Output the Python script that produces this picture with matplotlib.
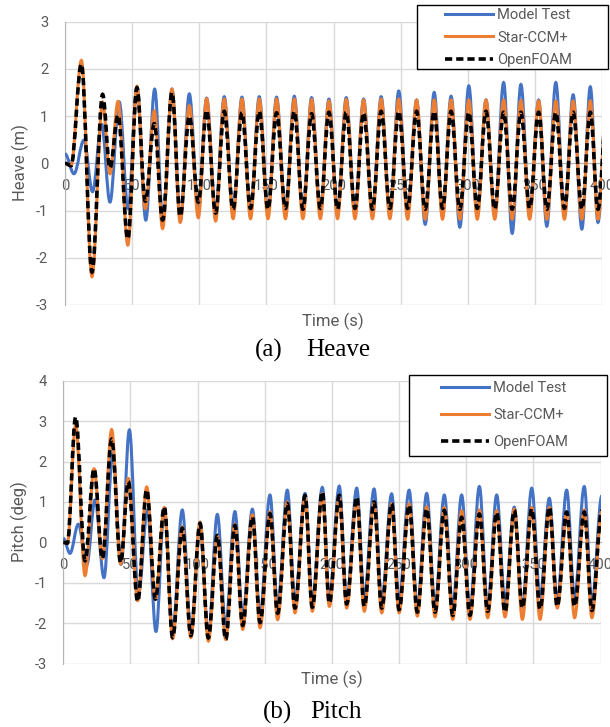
"""
Heave and pitch time histories: model test vs Star-CCM+ vs OpenFOAM
"""
import matplotlib

matplotlib.use("Agg")
import matplotlib.pyplot as plt
from matplotlib.lines import Line2D
from matplotlib.patches import PathPatch, Rectangle
from matplotlib.path import Path

# ---- data (extrema: time in s, value) ----
labels = ["Model Test", "Star-CCM+", "OpenFOAM"]

# heave, start-up part
heave_t_test_early = [0, 6.7, 14.1, 20.5, 27.3, 33.5, 40.4, 47.0, 53.6, 60.2, 66.8, 73.0, 79.7, 86.0, 92.6]
heave_t_cfd_early = [0, 4.5, 12.2, 20.1, 28.0, 33.5, 39.5, 46.8, 53.6, 59.8, 66.5, 72.7, 79.7, 85.8, 92.6]
heave_test_early = [0.2, -0.22, 0.49, -0.6, 0.83, -0.82, 1.3, -0.96, 1.62, -1.2, 1.57, -1.25, 1.57, -1.2, 1.47]
heave_star_early = [0, -0.05, 2.18, -2.4, 1.3, -0.22, 1.31, -1.73, 1.63, -0.96, 1.11, -1.38, 1.57, -1.25, 1.22]
heave_foam_early = [0, -0.05, 2.1, -2.3, 1.46, -0.1, 1.02, -1.6, 1.6, -0.8, 0.84, -1.2, 1.5, -1.12, 1.0]

# heave, steady part (trough, peak, trough, ...)
heave_t_late = [99.3, 105.5, 112.2, 118.6, 125.2, 131.8, 138.2, 144.7, 151.2, 157.6, 164.2, 170.8,
                177.2, 183.7, 190.2, 196.6, 203.0, 209.5, 216.0, 222.4, 229.0, 235.5, 242.0, 248.6,
                255.2, 261.9, 268.3, 275.0, 281.2, 287.6, 294.1, 300.8, 307.1, 313.6, 320.1, 326.7,
                333.1, 339.6, 346.1, 352.8, 358.9, 365.6, 372.0, 378.5, 385.0, 391.3, 397.0, 403.5]
heave_test_late = [-1.0, 1.38, -1.05, 1.41, -1.05, 1.40, -1.05, 1.41, -1.05, 1.40, -1.05, 1.42,
                   -1.05, 1.39, -1.05, 1.36, -1.05, 1.39, -1.05, 1.36, -1.05, 1.41, -1.08, 1.53,
                   -1.04, 1.34, -1.29, 1.50, -1.11, 1.42, -1.35, 1.64, -1.11, 1.34, -1.11, 1.71,
                   -1.48, 1.67, -1.11, 1.34, -1.33, 1.71, -1.11, 1.45, -1.39, 1.62, -1.25, 1.40]
heave_star_late = [-1.15, 1.37, -1.22, 1.36, -1.17, 1.36, -1.17, 1.36, -1.17, 1.36, -1.17, 1.36,
                   -1.17, 1.35, -1.17, 1.32, -1.17, 1.35, -1.17, 1.34, -1.17, 1.36, -1.17, 1.36,
                   -1.18, 1.34, -1.18, 1.34, -1.18, 1.34, -1.18, 1.34, -1.18, 1.34, -1.18, 1.34,
                   -1.18, 1.33, -1.18, 1.32, -1.18, 1.32, -1.18, 1.32, -1.18, 1.32, -1.18, 1.32]
heave_foam_late = [-0.82, 1.12, -1.05, 1.10, -0.97, 1.07, -0.95, 1.10, -0.97, 1.07, -0.95, 1.10,
                   -0.97, 1.05, -0.95, 1.08, -0.97, 1.08, -0.95, 1.07, -0.97, 1.10, -0.95, 1.10,
                   -0.95, 1.10, -0.97, 1.10, -0.95, 1.10, -0.97, 1.08, -0.95, 1.10, -0.97, 1.08,
                   -0.97, 1.08, -0.95, 1.08, -0.97, 1.08, -0.95, 1.08, -0.97, 1.08, -0.97, 1.08]

# pitch, start-up part
pitch_t_test_early = [0, 5.0, 11.2, 17.5, 23.6, 30.3, 36.8, 43.0, 49.2, 55.9, 62.6, 69.0, 75.2, 81.4, 88.6, 95.0, 101.8]
pitch_t_cfd_early = [0, 3.0, 9.2, 16.2, 22.9, 29.1, 36.0, 42.7, 48.4, 55.4, 62.1, 68.6, 75.2, 81.4, 88.6, 95.0, 101.8]
pitch_test_early = [0.1, -0.27, 0.45, -0.55, 1.05, -0.87, 2.2, -0.54, 2.78, -1.3, 0.8, -2.2, 0.85, -2.2, 0.8, -2.2, 0.4]
pitch_star_early = [0, -0.02, 2.9, -0.82, 1.82, -0.4, 2.79, -0.53, 1.58, -1.44, 1.37, -1.4, 0.86, -2.38, 0.38, -2.35, 0.5]
pitch_foam_early = [0, -0.02, 3.1, -0.45, 1.82, -0.4, 2.55, -0.5, 1.5, -1.46, 1.3, -1.4, 0.88, -2.35, 0.35, -2.3, 0.47]

# pitch, steady part (trough, peak, ...)
pitch_t_late = [108.0, 114.7, 120.9, 127.8, 133.6, 140.8, 146.5, 153.9, 159.6, 166.8, 172.5, 180.0,
                185.4, 192.9, 198.1, 205.5, 211.0, 218.5, 224.1, 231.4, 237.1, 244.5, 250.0, 257.5,
                263.6, 270.6, 276.8, 283.7, 290.0, 296.6, 302.8, 309.8, 316.0, 322.7, 328.9, 335.8,
                341.8, 348.8, 355.0, 361.9, 367.8, 374.8, 380.7, 387.9, 393.6, 401.0]
pitch_test_late = [-2.3, 0.69, -2.05, 0.76, -1.85, 0.82, -1.8, 1.17, -1.6, 1.29, -1.45, 1.21,
                   -1.45, 1.36, -1.4, 1.39, -1.45, 1.34, -1.35, 1.32, -1.45, 1.20, -1.45, 1.29,
                   -1.6, 1.21, -1.55, 1.17, -1.6, 1.17, -1.65, 1.38, -1.6, 1.17, -1.45, 0.87,
                   -1.6, 1.34, -1.35, 1.09, -1.45, 1.29, -1.35, 1.38, -1.5, 1.15]
pitch_star_late = [-2.44, 0.15, -2.40, 0.45, -2.15, 0.68, -2.11, 0.75, -1.91, 1.0, -1.74, 1.1,
                   -1.70, 1.2, -1.58, 1.1, -1.62, 1.05, -1.70, 0.98, -1.74, 0.95, -1.74, 0.95,
                   -1.82, 0.88, -1.84, 0.86, -1.9, 0.78, -1.9, 0.8, -1.86, 0.78, -1.84, 0.82,
                   -1.9, 0.86, -1.9, 0.86, -1.62, 0.72, -1.86, 0.8, -1.86, 0.78]
pitch_foam_late = [-2.36, 0.17, -2.4, 0.42, -2.05, 0.63, -1.98, 0.71, -1.75, 0.96, -1.62, 1.16,
                   -1.6, 1.25, -1.5, 1.16, -1.52, 1.12, -1.58, 1.0, -1.62, 0.96, -1.66, 0.92,
                   -1.72, 0.83, -1.72, 0.79, -1.8, 0.62, -1.8, 0.70, -1.7, 0.74, -1.72, 0.79,
                   -1.62, 0.83, -1.65, 0.87, -1.58, 0.75, -1.58, 0.75, -1.68, 0.78]

W, H = 610, 727
BLUE, ORANGE, BLACK = "#4472C4", "#ED7D31", "#000000"
GREY = "#595959"
DASH = (0, (2.0, 1.1))
XFONT = "Roboto"
CAPFONT = "Liberation Serif"

plt.rcParams["axes.unicode_minus"] = False


def fx(x):
    return x / W


def fy(y):
    return 1 - y / H


def smooth_line(ax, ts, vs, **kw):
    # smoothed line (cubic Bezier between consecutive points, like Excel's smoothed line)
    verts = [(ts[0], vs[0])]
    codes = [Path.MOVETO]
    for t0, v0, t1, v1 in zip(ts[:-1], vs[:-1], ts[1:], vs[1:]):
        d = (t1 - t0) * 0.36
        verts += [(t0 + d, v0), (t1 - d, v1), (t1, v1)]
        codes += [Path.CURVE4] * 3
    patch = PathPatch(Path(verts, codes), fill=False, zorder=3, **kw)
    ax.add_patch(patch)


def setup(ax, ylim):
    ax.set_xlim(0, 400)
    ax.set_ylim(*ylim)
    ax.set_xticks(range(0, 401, 50))
    ax.set_yticks(range(ylim[0], ylim[1] + 1))
    ax.grid(True, color="#d9d9d9", lw=1)
    ax.set_axisbelow(True)
    for s in ("top", "right"):
        ax.spines[s].set_visible(False)
    ax.spines["bottom"].set_position(("data", 0))
    ax.spines["bottom"].set_color("#b4b4b4")
    ax.spines["left"].set_color("#b4b4b4")
    ax.tick_params(length=0, labelsize=10.6, labelcolor=GREY)
    ax.tick_params(axis="x", pad=11)
    ax.tick_params(axis="y", pad=12)
    for lab in ax.get_xticklabels() + ax.get_yticklabels():
        lab.set_family(XFONT)


def legend(fig, box, hx, ytop, spacing):
    x0, y0, x1, y1 = box
    fig.add_artist(Rectangle((fx(x0), fy(y1)), (x1 - x0) / W, (y1 - y0) / H,
                             transform=fig.transFigure, facecolor="white",
                             edgecolor="black", lw=1.0, zorder=5))
    handles = [Line2D([], [], color=BLUE, lw=2.2),
               Line2D([], [], color=ORANGE, lw=2.2),
               Line2D([], [], color=BLACK, lw=2.6, linestyle=DASH)]
    leg = fig.legend(handles, labels, loc="upper left", bbox_to_anchor=(fx(hx), fy(ytop)),
                     frameon=False, borderpad=0, borderaxespad=0, handlelength=3.26,
                     handletextpad=0.3, labelspacing=spacing,
                     prop={"family": XFONT, "size": 10.6})
    for t in leg.get_texts():
        t.set_color(GREY)
    leg.set_zorder(6)


fig = plt.figure(figsize=(W / 100, H / 100), dpi=100)

# heave panel
ax1 = fig.add_axes([fx(65), fy(305), 537 / W, 283.3 / H])
setup(ax1, (-3, 3))
smooth_line(ax1, heave_t_test_early + heave_t_late, heave_test_early + heave_test_late,
            edgecolor=BLUE, lw=2.2)
smooth_line(ax1, heave_t_cfd_early + heave_t_late, heave_star_early + heave_star_late,
            edgecolor=ORANGE, lw=2.2)
smooth_line(ax1, heave_t_cfd_early + heave_t_late, heave_foam_early + heave_foam_late,
            edgecolor=BLACK, lw=2.6, linestyle=DASH)

# pitch panel
ax2 = fig.add_axes([fx(63.3), fy(663.7), 537.2 / W, 283 / H])
setup(ax2, (-3, 4))
smooth_line(ax2, pitch_t_test_early + pitch_t_late, pitch_test_early + pitch_test_late,
            edgecolor=BLUE, lw=2.2)
smooth_line(ax2, pitch_t_cfd_early + pitch_t_late, pitch_star_early + pitch_star_late,
            edgecolor=ORANGE, lw=2.2)
smooth_line(ax2, pitch_t_cfd_early + pitch_t_late, pitch_foam_early + pitch_foam_late,
            edgecolor=BLACK, lw=2.6, linestyle=DASH)

# axis titles
fig.text(fx(333), fy(321), "Time (s)", ha="center", va="center", fontsize=12,
         color=GREY, family=XFONT)
fig.text(fx(332), fy(679), "Time (s)", ha="center", va="center", fontsize=12,
         color=GREY, family=XFONT)
fig.text(fx(20), fy(163), "Heave (m)", ha="center", va="center", rotation=90,
         fontsize=12, color=GREY, family=XFONT)
fig.text(fx(19), fy(522), "Pitch (deg)", ha="center", va="center", rotation=90,
         fontsize=12, color=GREY, family=XFONT)

# captions
fig.text(fx(255), fy(350), "(a)", ha="left", va="center", fontsize=18, family=CAPFONT)
fig.text(fx(306), fy(350), "Heave", ha="left", va="center", fontsize=18, family=CAPFONT)
fig.text(fx(263), fy(712), "(b)", ha="left", va="center", fontsize=18, family=CAPFONT)
fig.text(fx(310), fy(712), "Pitch", ha="left", va="center", fontsize=18, family=CAPFONT)

legend(fig, (417, 5, 608, 69), 445, 8, 0.58)
legend(fig, (409, 375, 607, 456), 441, 381, 0.9)

fig.savefig("out.png", dpi=100)
